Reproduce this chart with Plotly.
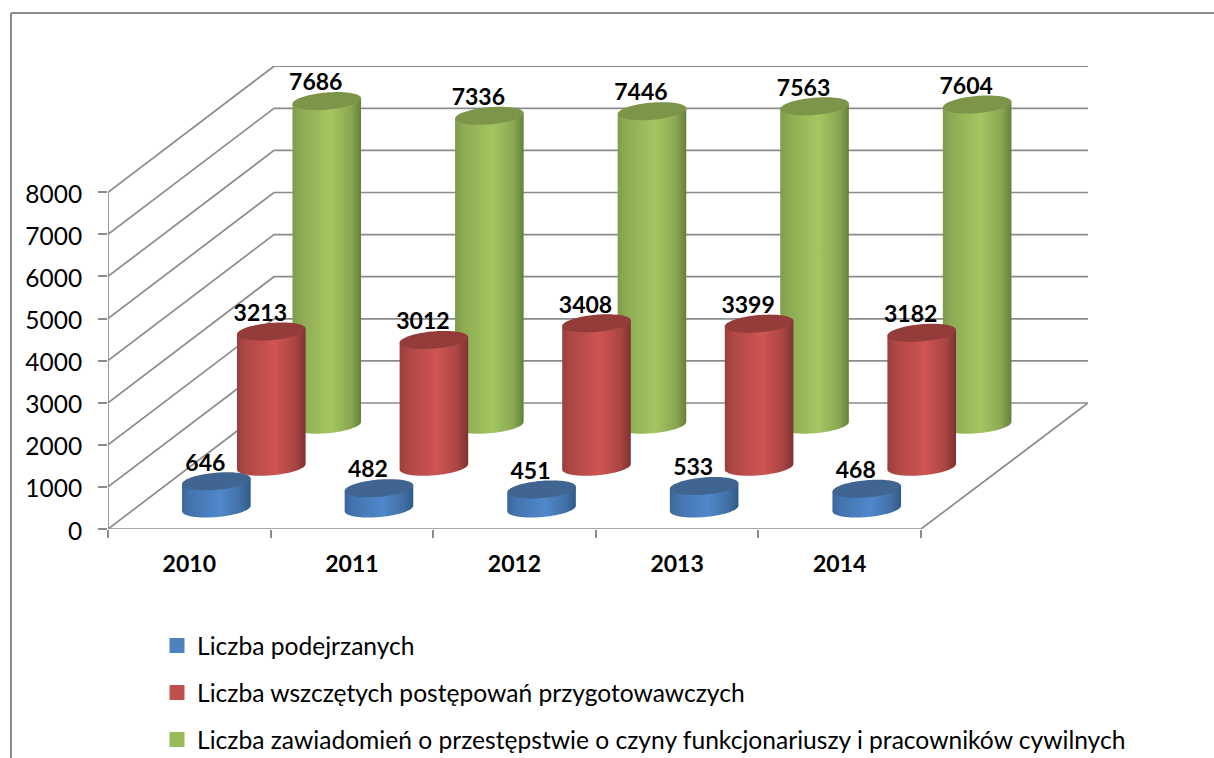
import numpy as np
import plotly.graph_objects as go

# ---- data ----
years = ["2010", "2011", "2012", "2013", "2014"]
podejrzani = [646, 482, 451, 533, 468]
postepowania = [3213, 3012, 3408, 3399, 3182]
zawiadomienia = [7686, 7336, 7446, 7563, 7604]
name_blue = "Liczba podejrzanych"
name_red = "Liczba wszczętych postępowań przygotowawczych"
name_green = "Liczba zawiadomień o przestępstwie o czyny funkcjonariuszy i pracowników cywilnych"
y_ticks = [0, 1000, 2000, 3000, 4000, 5000, 6000, 7000, 8000]

# ---- layout geometry (pixels) ----
W, H = 1214, 758
L, R, T, B = 108, 1088, 66, 529
PX_X = 162.6              # pixels per category
PX_Y = 0.0421             # pixels per value unit
WALL_X = 166 / PX_X       # oblique depth shift, x units
WALL_Y = 126 / PX_Y       # oblique depth shift, y units
GRID = "#8b8b8b"
FONT = "Lato"

def px_x(p):
    return p / PX_X

def px_y(p):
    return p / PX_Y

fig = go.Figure()

# ---- walls and floor ----
gx, gy = [], []
for v in y_ticks:
    gx += [0, WALL_X, (R - L) / PX_X, None]
    gy += [v, v + WALL_Y, v + WALL_Y, None]
n = len(years)
gx += [0, 0, None, 0, n, (R - L) / PX_X]
gy += [0, y_ticks[-1], None, 0, 0, WALL_Y]
fig.add_trace(go.Scatter(x=gx, y=gy, mode="lines", line=dict(color=GRID, width=1.7),
                         showlegend=False, hoverinfo="skip", cliponaxis=False))

# ---- cylinders ----
A = 34.3   # half width, px
C = 8.6    # half height of the cap, px
TILT = 2.8 # rise of the cap's right end, px
t_low = np.linspace(np.pi, 0, 50)
t_all = np.linspace(0, 2 * np.pi, 100)

def add_cylinder(i, depth, value, body_scale, cap_color):
    cx = i + 0.5 + depth * WALL_X
    base = depth * WALL_Y
    top = base + value
    bx = cx + px_x(A * np.cos(t_low))
    by = base + px_y(-C * np.sin(t_low) + TILT * np.cos(t_low))
    tx = np.array([cx + px_x(A)])
    xs = np.concatenate([[cx - px_x(A)], bx, tx])
    ys = np.concatenate([[top - px_y(TILT)], by, [top + px_y(TILT)]])
    fig.add_trace(go.Scatter(
        x=xs, y=ys, mode="none", fill="toself",
        fillgradient=dict(type="horizontal", colorscale=body_scale),
        showlegend=False, hoverinfo="skip", cliponaxis=False))
    fig.add_trace(go.Scatter(
        x=cx + px_x(A * np.cos(t_all)),
        y=top + px_y(C * np.sin(t_all) + TILT * np.cos(t_all)),
        mode="none", fill="toself", fillcolor=cap_color,
        showlegend=False, hoverinfo="skip", cliponaxis=False))

series = [
    (zawiadomienia, 0.828,
     [[0, "#7f9c4c"], [0.12, "#8dab53"], [0.55, "#a4c661"], [0.85, "#8aa853"], [1, "#64803a"]], "#7c9549"),
    (postepowania, 0.494,
     [[0, "#983f3d"], [0.12, "#ad4745"], [0.55, "#cf5452"], [0.85, "#a94543"], [1, "#7d3230"]], "#933c3a"),
    (podejrzani, 0.163,
     [[0, "#3a669b"], [0.12, "#4473ad"], [0.55, "#5088cb"], [0.85, "#4270a6"], [1, "#2f5a89"]], "#3f6590"),
]
label_x, label_y, label_t = [], [], []
for vals, depth, scale, cap in series:
    for i, v in enumerate(vals):
        add_cylinder(i, depth, v, scale, cap)
        label_x.append(i + 0.5 + depth * WALL_X - px_x(11))
        label_y.append(depth * WALL_Y + v + px_y(16.5))
        label_t.append(str(v))

fig.add_trace(go.Scatter(
    x=label_x, y=label_y, text=label_t, mode="text", textposition="middle center",
    textfont=dict(family=FONT, size=23, color="#000000", weight="bold"),
    showlegend=False, hoverinfo="skip", cliponaxis=False))

# ---- legend entries ----
for nm, col in [(name_blue, "#4f81bd"), (name_red, "#c0504d"), (name_green, "#9bbb59")]:
    fig.add_trace(go.Scatter(
        x=[None], y=[None], mode="markers", name=nm, legendgroup=nm,
        marker=dict(symbol="square", size=15, color=col)))

plot_w, plot_h = R - L, B - T
fig.update_layout(
    width=W, height=H,
    margin=dict(l=L, r=W - R, t=T, b=H - B, autoexpand=False),
    paper_bgcolor="white", plot_bgcolor="rgba(0,0,0,0)",
    font=dict(family=FONT, color="#000000"),
    xaxis=dict(
        range=[0, plot_w / PX_X], showgrid=False, zeroline=False, showline=False,
        tickmode="array", tickvals=[i + 0.5 for i in range(n)], ticktext=years,
        ticks="", ticklabelstandoff=19,
        tickfont=dict(family=FONT, size=23, weight="bold", color="#000000"),
        minor=dict(tickmode="array", tickvals=list(range(n + 1)), ticks="outside",
                   ticklen=8, tickwidth=1.7, tickcolor=GRID, showgrid=False),
    ),
    yaxis=dict(
        range=[0, plot_h / PX_Y], showgrid=False, zeroline=False, showline=False,
        tickmode="array", tickvals=y_ticks, ticktext=[str(v) for v in y_ticks],
        ticks="outside", ticklen=9, tickwidth=1.7, tickcolor=GRID, ticklabelstandoff=11,
        ticklabelshift=2,
        tickfont=dict(family=FONT, size=24.5, color="#000000"),
    ),
    legend=dict(
        x=(157 - L) / plot_w, xanchor="left", y=(B - 623) / plot_h, yanchor="top",
        font=dict(family=FONT, size=24.6, color="#000000"),
        tracegroupgap=12, bgcolor="rgba(0,0,0,0)", itemwidth=30,
    ),
    shapes=[
        dict(type="line", xref="paper", yref="paper",
             x0=(11 - L) / plot_w, x1=(11 - L) / plot_w, y0=(B - 13) / plot_h, y1=(B - H) / plot_h,
             line=dict(color=GRID, width=2)),
        dict(type="line", xref="paper", yref="paper",
             x0=(11 - L) / plot_w, x1=(W - L) / plot_w, y0=(B - 13) / plot_h, y1=(B - 13) / plot_h,
             line=dict(color=GRID, width=2)),
    ],
)

fig.write_html("out.html", config={"displayModeBar": False},
               post_script="document.body.style.margin='0';document.body.style.overflow='hidden';")
